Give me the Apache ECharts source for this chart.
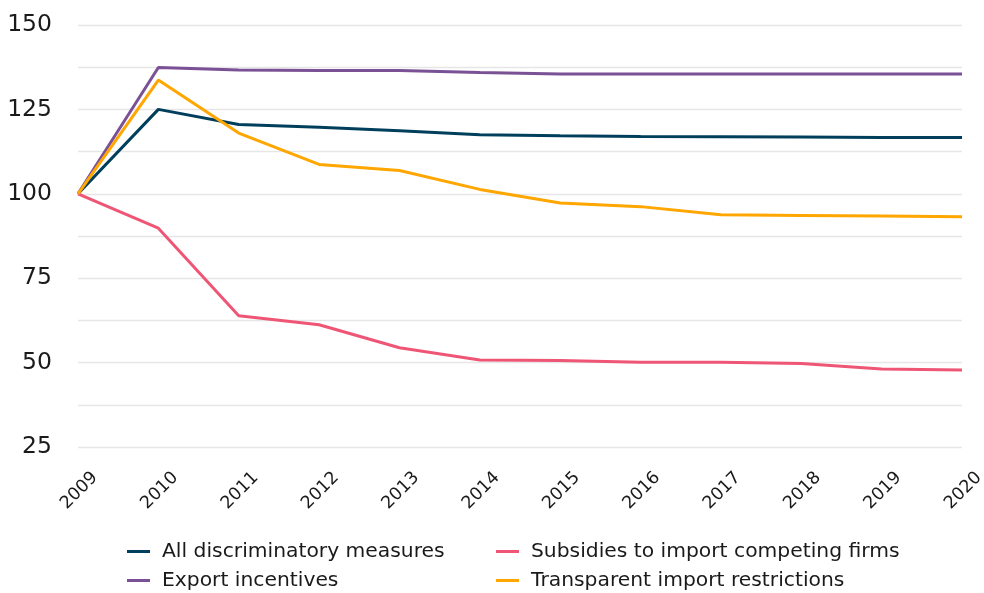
<!DOCTYPE html>
<html>
<head>
<meta charset="utf-8">
<script src="https://cdn.jsdelivr.net/npm/echarts@6/dist/echarts.min.js"></script>
<style>html,body{margin:0;padding:0;background:#fff}#c{width:984px;height:593px}</style>
</head>
<body>
<div id="c"></div>
<script>
const years = ['2009','2010','2011','2012','2013','2014','2015','2016','2017','2018','2019','2020'];
const allDiscriminatory = [100, 125.0, 120.5, 119.7, 118.7, 117.5, 117.2, 117.0, 116.9, 116.8, 116.7, 116.7];
const exportIncentives = [100, 137.4, 136.7, 136.5, 136.5, 135.9, 135.5, 135.5, 135.5, 135.5, 135.5, 135.5];
const subsidies = [100, 89.8, 63.9, 61.2, 54.4, 50.8, 50.6, 50.1, 50.1, 49.7, 48.1, 47.8];
const transparent = [100, 133.7, 118.0, 108.7, 106.9, 101.3, 97.3, 96.2, 93.8, 93.6, 93.4, 93.2];
const yLabels = [25, 50, 75, 100, 125, 150];

const names = ['All discriminatory measures', 'Export incentives', 'Subsidies to import competing firms', 'Transparent import restrictions'];
const colors = ['#003f5c', '#7a5195', '#ef5675', '#ffa600'];
const data = [allDiscriminatory, exportIncentives, subsidies, transparent];

const FONT = 'DejaVu Sans';
const chart = echarts.init(document.getElementById('c'));
const legendCommon = {
  orient: 'vertical', top: 541, padding: 0, height: 60, itemWidth: 23, itemHeight: 3, icon: 'rect', itemGap: 8,
  textStyle: { fontFamily: FONT, fontSize: 20.3, lineHeight: 21, color: '#1a1a1a', padding: [0,0,0,7] }
};
chart.setOption({
  animation: false,
  textStyle: { fontFamily: FONT },
  grid: { left: 78, right: 22, top: 25, bottom: 146, containLabel: false, outerBoundsMode: 'none' },
  legend: [
    Object.assign({}, legendCommon, { left: 127, data: [names[0], names[1]] }),
    Object.assign({}, legendCommon, { left: 496, data: [names[2], names[3]] })
  ],
  xAxis: {
    type: 'category', data: years, boundaryGap: false,
    axisLine: { show: false }, axisTick: { show: false },
    axisLabel: {
      rotate: 45, fontFamily: FONT, fontSize: 17.5, color: '#1a1a1a', margin: 11, interval: 0,
      verticalAlign: 'top', padding: [15, 0, 0, 0]
    },
    splitLine: { show: false }
  },
  yAxis: {
    type: 'value', min: 25, max: 150, interval: 12.5,
    axisLine: { show: false }, axisTick: { show: false },
    axisLabel: {
      fontFamily: FONT, fontSize: 23.5, color: '#1a1a1a', margin: 26,
      formatter: v => yLabels.includes(v) ? String(v) : ''
    },
    splitLine: { lineStyle: { color: '#e6e6e6', width: 1.3 } }
  },
  series: names.map((n, i) => ({
    name: n, type: 'line', data: data[i], showSymbol: false, symbol: 'none',
    lineStyle: { width: 3, color: colors[i] }, itemStyle: { color: colors[i] }
  }))
});
</script>
</body>
</html>
